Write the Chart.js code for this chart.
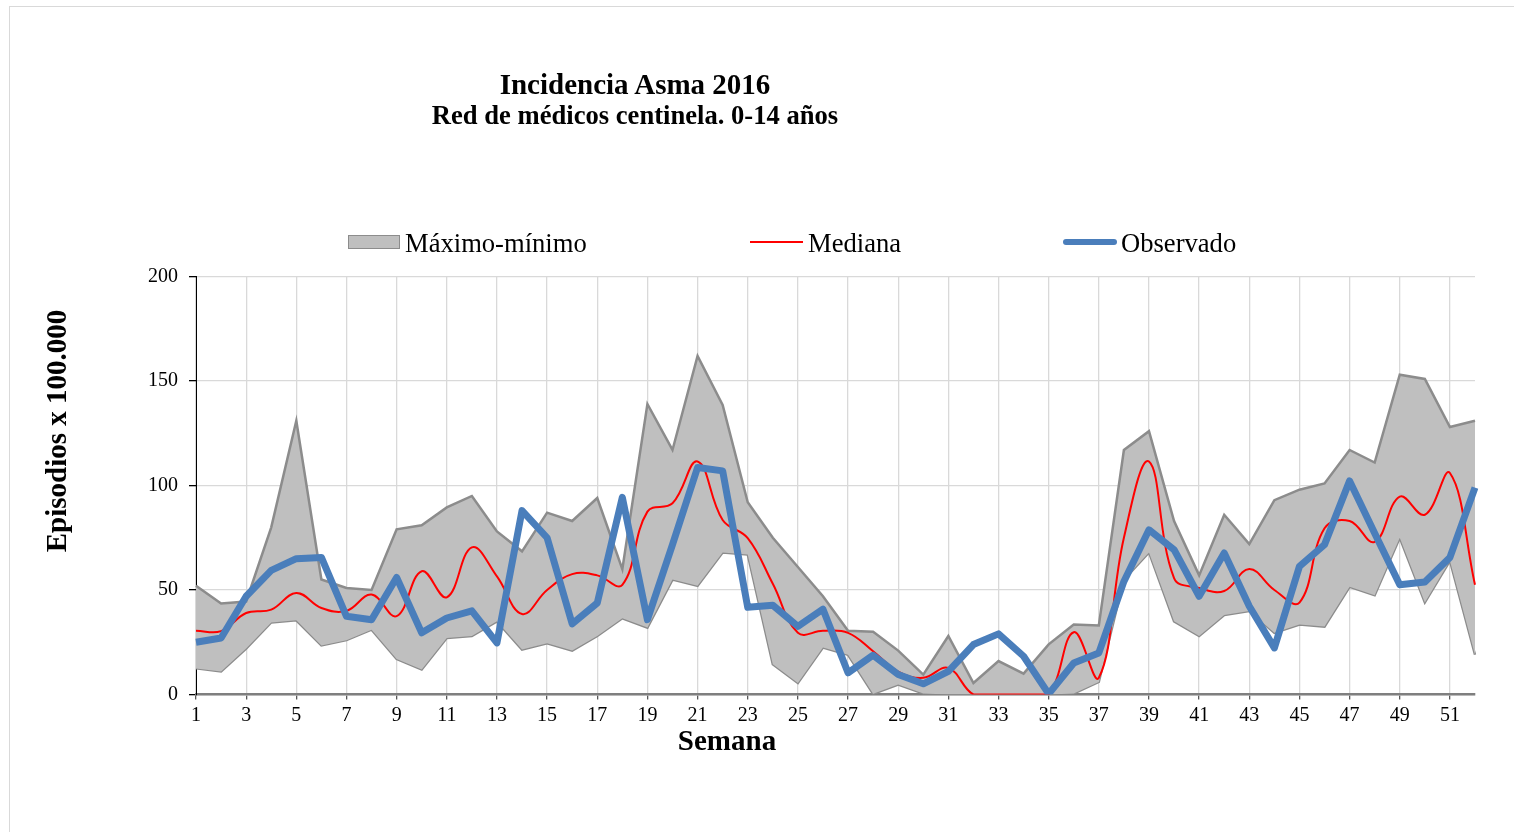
<!DOCTYPE html>
<html>
<head>
<meta charset="utf-8">
<script src="https://cdn.jsdelivr.net/npm/chart.js@4"></script>
<style>
  body { margin: 0; background: #fff; font-family: "Liberation Serif", "Times New Roman", serif; }
  #wrap { position: relative; width: 1514px; height: 832px; overflow: hidden; }
  #frame { position: absolute; left: 9px; top: 6px; width: 1600px; height: 900px; border: 1px solid #d9d9d9; }
  .t { position: absolute; line-height: 1; white-space: nowrap; color: #000; transform: translate(-50%, -50%); }
  .b { font-weight: bold; }
  .lg { position: absolute; font-size: 26.6px; line-height: 1; white-space: nowrap; transform: translateY(-50%); }
</style>
</head>
<body>
<div id="wrap">
  <div id="frame"></div>
  <canvas id="chart"></canvas>
  <div class="t b" style="left:635px; top:84px; font-size:29px;">Incidencia Asma 2016</div>
  <div class="t b" style="left:635px; top:115px; font-size:26.6px;">Red de médicos centinela. 0-14 años</div>
  <div class="t b" style="left:727px; top:740px; font-size:29px;">Semana</div>
  <div class="t b" style="left:56px; top:431px; font-size:29px; transform: translate(-50%, -50%) rotate(-90deg);">Episodios x 100.000</div>

  <div style="position:absolute; left:348px; top:235px; width:50px; height:12px; background:#bfbfbf; border:1.5px solid #8c8c8c;"></div>
  <div class="lg" style="left:405px; top:243px;">Máximo-mínimo</div>
  <div style="position:absolute; left:750px; top:241px; width:53px; height:2px; background:#ff0000;"></div>
  <div class="lg" style="left:808px; top:243px;">Mediana</div>
  <div style="position:absolute; left:1063px; top:239px; width:54px; height:6px; border-radius:3px; background:#4a7ebb;"></div>
  <div class="lg" style="left:1121px; top:243px;">Observado</div>
</div>
<script>
const weeks = Array.from({ length: 52 }, (_, i) => String(i + 1));

const maximo = [52, 43.5, 44.5, 80, 131, 55, 51, 50, 79, 81, 89.5, 95, 78, 68.5, 87, 83, 94, 60, 139, 117,
  162, 138.5, 92, 75, 61, 47, 30.5, 30, 21, 9.5, 28, 5.5, 16, 10, 24, 33.5, 33, 117, 126, 83,
  57, 86, 72, 93, 98, 101, 117, 111, 153, 151, 128, 131];

const minimo = [12.5, 11, 22, 34.5, 35.5, 23.5, 26, 31, 17, 12, 27, 28, 35, 21.5, 24.5, 21, 28, 36.5, 32, 55,
  52, 68, 67, 14.5, 5.5, 22.5, 19, 0.3, 4.8, 0.5, 0, 0, 0, 0, 0, 0.5, 6, 55, 68, 35,
  28, 38, 40, 29.5, 33.5, 32.5, 51.5, 47.5, 75, 44, 64, 19];

const mediana = [30.5, 30.3, 39, 40.6, 48.6, 41.4, 40, 47.8, 37.5, 59, 46.5, 70.4, 56.5, 38.5, 50, 57.6, 57, 52.5, 87.5, 91.5,
  111.5, 83.5, 74.8, 53, 29.5, 30.5, 29.5, 20.7, 11, 8, 12.7, 0, 0, 0, 0, 29.8, 8, 75, 111.5, 55.7,
  51, 49.5, 60, 50, 44, 79.5, 83, 73, 94.7, 86, 106, 52.5];

const observado = [25, 27, 47, 59.4, 65, 65.6, 37.4, 35.8, 56, 29.5, 36.6, 40, 24.7, 88, 75, 33.8, 43.8, 94.3, 35.8, 71.7,
  108.6, 107, 41.7, 42.7, 32.6, 40.8, 10.4, 18.8, 9.6, 5.1, 11.1, 23.9, 29, 18.3, 0.3, 15.1, 19.9, 54.1, 78.8, 69.3,
  47, 67.7, 42.2, 22.3, 61.3, 71.7, 102.2, 77.2, 52.5, 53.8, 65.6, 99];

const yTicks = [0, 50, 100, 150, 200];

const FONT = "'Liberation Serif', 'Times New Roman', serif";
const gridGray = "#d9d9d9";

new Chart(document.getElementById("chart"), {
  type: "line",
  data: {
    labels: weeks,
    datasets: [
      {
        label: "Observado",
        data: observado,
        borderColor: "#4a7ebb",
        borderWidth: 7,
        borderJoinStyle: "round",
        pointRadius: 0,
        tension: 0,
        fill: false
      },
      {
        label: "Mediana",
        data: mediana,
        borderColor: "#ff0000",
        borderWidth: 2,
        pointRadius: 0,
        tension: 0.4,
        fill: false
      },
      {
        label: "Máximo",
        data: maximo,
        borderColor: "#8c8c8c",
        backgroundColor: "#bfbfbf",
        borderWidth: 2.5,
        pointRadius: 0,
        tension: 0,
        fill: "+1"
      },
      {
        label: "Mínimo",
        data: minimo,
        borderColor: "#8c8c8c",
        borderWidth: 2.5,
        pointRadius: 0,
        tension: 0,
        fill: false
      }
    ]
  },
  options: {
    responsive: true,
    maintainAspectRatio: false,
    animation: false,
    layout: { padding: { left: 0, right: 39, top: 276.5, bottom: 0 } },
    plugins: {
      legend: { display: false },
      title: { display: false },
      tooltip: { enabled: false }
    },
    scales: {
      x: {
        type: "category",
        offset: false,
        afterFit: (s) => { s.height = 137.5; },
        border: { display: true, color: "#7f7f7f", width: 2.5 },
        grid: {
          color: (c) => (c.index % 2 === 0 ? gridGray : "rgba(0,0,0,0)"),
          tickColor: (c) => (c.index % 2 === 0 ? "#595959" : "rgba(0,0,0,0)"),
          tickLength: 5,
          lineWidth: 1.3
        },
        ticks: {
          autoSkip: false,
          maxRotation: 0,
          padding: 4,
          color: "#000",
          font: { family: FONT, size: 20 },
          callback: (v, i) => (i % 2 === 0 ? weeks[i] : "")
        }
      },
      y: {
        min: 0,
        max: 200,
        afterFit: (s) => { s.width = 196; },
        afterBuildTicks: (s) => { s.ticks = yTicks.map((v) => ({ value: v })); },
        border: { display: true, color: "#000", width: 1 },
        grid: { color: gridGray, tickColor: "#000", tickLength: 7, lineWidth: 1.3 },
        ticks: {
          padding: 11,
          color: "#000",
          font: { family: FONT, size: 20 }
        }
      }
    }
  }
});
</script>
</body>
</html>
